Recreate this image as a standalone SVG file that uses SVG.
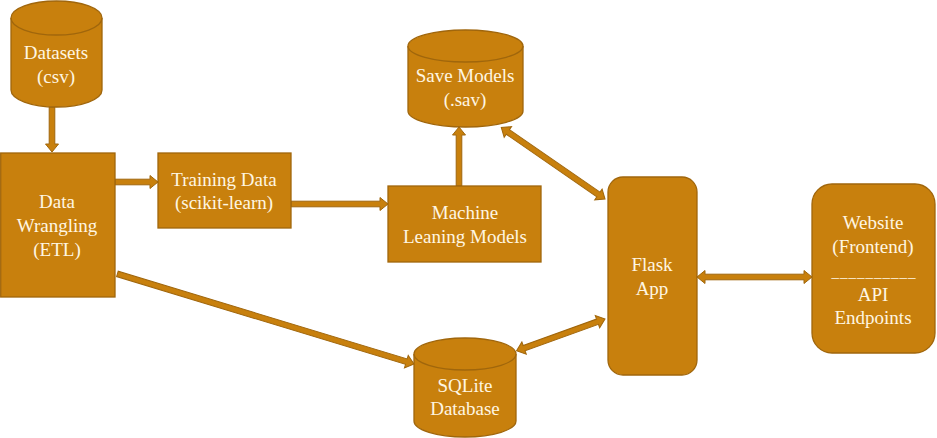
<svg xmlns="http://www.w3.org/2000/svg" width="937" height="438" viewBox="0 0 937 438">
<style>
.n{fill:#C8800D;stroke:#A0660C;stroke-width:1.3}
.a{fill:#C8800D;stroke:#A0660C;stroke-width:1}
.t{font-family:'Liberation Serif','DejaVu Serif',serif;font-size:19px;fill:#FFF6E2;text-anchor:middle}
.u{font-size:15px;letter-spacing:1px}
</style>
<rect width="937" height="438" fill="#fff"/>
<g id="connectors">
  <g transform="translate(52,152) rotate(90)"><polygon class="a" points="0,0 -8,-6.5 -8,-2.8 -45,-2.8 -45,2.8 -8,2.8 -8,6.5"/></g>
  <g transform="translate(158,182)"><polygon class="a" points="0,0 -8,-6.5 -8,-2.8 -43,-2.8 -43,2.8 -8,2.8 -8,6.5"/></g>
  <g transform="translate(388,204)"><polygon class="a" points="0,0 -8,-6.5 -8,-2.8 -97,-2.8 -97,2.8 -8,2.8 -8,6.5"/></g>
  <g transform="translate(459,127) rotate(-90)"><polygon class="a" points="0,0 -8,-6.5 -8,-2.8 -59,-2.8 -59,2.8 -8,2.8 -8,6.5"/></g>
  <g transform="translate(605,199) rotate(34.6)"><polygon class="a" points="0,0 -8,-6.5 -8,-2.8 -118,-2.8 -118,-6.5 -126,0 -118,6.5 -118,2.8 -8,2.8 -8,6.5"/></g>
  <g transform="translate(812,277)"><polygon class="a" points="0,0 -8,-6.5 -8,-2.8 -107,-2.8 -107,-6.5 -115,0 -107,6.5 -107,2.8 -8,2.8 -8,6.5"/></g>
  <g transform="translate(414,364) rotate(16.9)"><polygon class="a" points="0,0 -8,-6.5 -8,-2.8 -310,-2.8 -310,2.8 -8,2.8 -8,6.5"/></g>
  <g transform="translate(605,319) rotate(-19.8)"><polygon class="a" points="0,0 -8,-6.5 -8,-2.8 -86,-2.8 -86,-6.5 -94,0 -86,6.5 -86,2.8 -8,2.8 -8,6.5"/></g>
</g>
<g id="datasets">
  <path class="n" d="M11,18 A45.5,17 0 0 1 102,18 V90 A45.5,17 0 0 1 11,90 Z"/>
  <path class="n" fill="none" d="M11,18 A45.5,17 0 0 0 102,18"/>
  <text class="t" x="56" y="59">Datasets</text>
  <text class="t" x="56" y="83">(csv)</text>
</g>
<g id="data-wrangling">
  <rect class="n" x="0.7" y="153" width="114.3" height="144"/>
  <text class="t" x="57" y="208">Data</text>
  <text class="t" x="57" y="232">Wrangling</text>
  <text class="t" x="57" y="256">(ETL)</text>
</g>
<g id="training-data">
  <rect class="n" x="158" y="153" width="133" height="75"/>
  <text class="t" x="224" y="186">Training Data</text>
  <text class="t" x="224" y="209">(scikit-learn)</text>
</g>
<g id="ml-models">
  <rect class="n" x="388" y="186" width="153" height="76"/>
  <text class="t" x="465" y="219">Machine</text>
  <text class="t" x="465" y="243">Leaning Models</text>
</g>
<g id="save-models">
  <path class="n" d="M408,46 A57.5,16 0 0 1 523,46 V111 A57.5,16 0 0 1 408,111 Z"/>
  <path class="n" fill="none" d="M408,46 A57.5,16 0 0 0 523,46"/>
  <text class="t" x="465" y="82">Save Models</text>
  <text class="t" x="465" y="106">(.sav)</text>
</g>
<g id="flask-app">
  <rect class="n" x="608" y="177" width="89" height="198" rx="15"/>
  <text class="t" x="652" y="271">Flask</text>
  <text class="t" x="652" y="295">App</text>
</g>
<g id="website">
  <rect class="n" x="812" y="184" width="123" height="169" rx="20"/>
  <text class="t" x="873" y="229">Website</text>
  <text class="t" x="873" y="253">(Frontend)</text>
  <text class="t u" x="874" y="277">__________</text>
  <text class="t" x="873" y="301">API</text>
  <text class="t" x="873" y="324">Endpoints</text>
</g>
<g id="sqlite">
  <path class="n" d="M414,354 A51,16 0 0 1 516,354 V421 A51,16 0 0 1 414,421 Z"/>
  <path class="n" fill="none" d="M414,354 A51,16 0 0 0 516,354"/>
  <text class="t" x="465" y="392">SQLite</text>
  <text class="t" x="465" y="415">Database</text>
</g>
</svg>
